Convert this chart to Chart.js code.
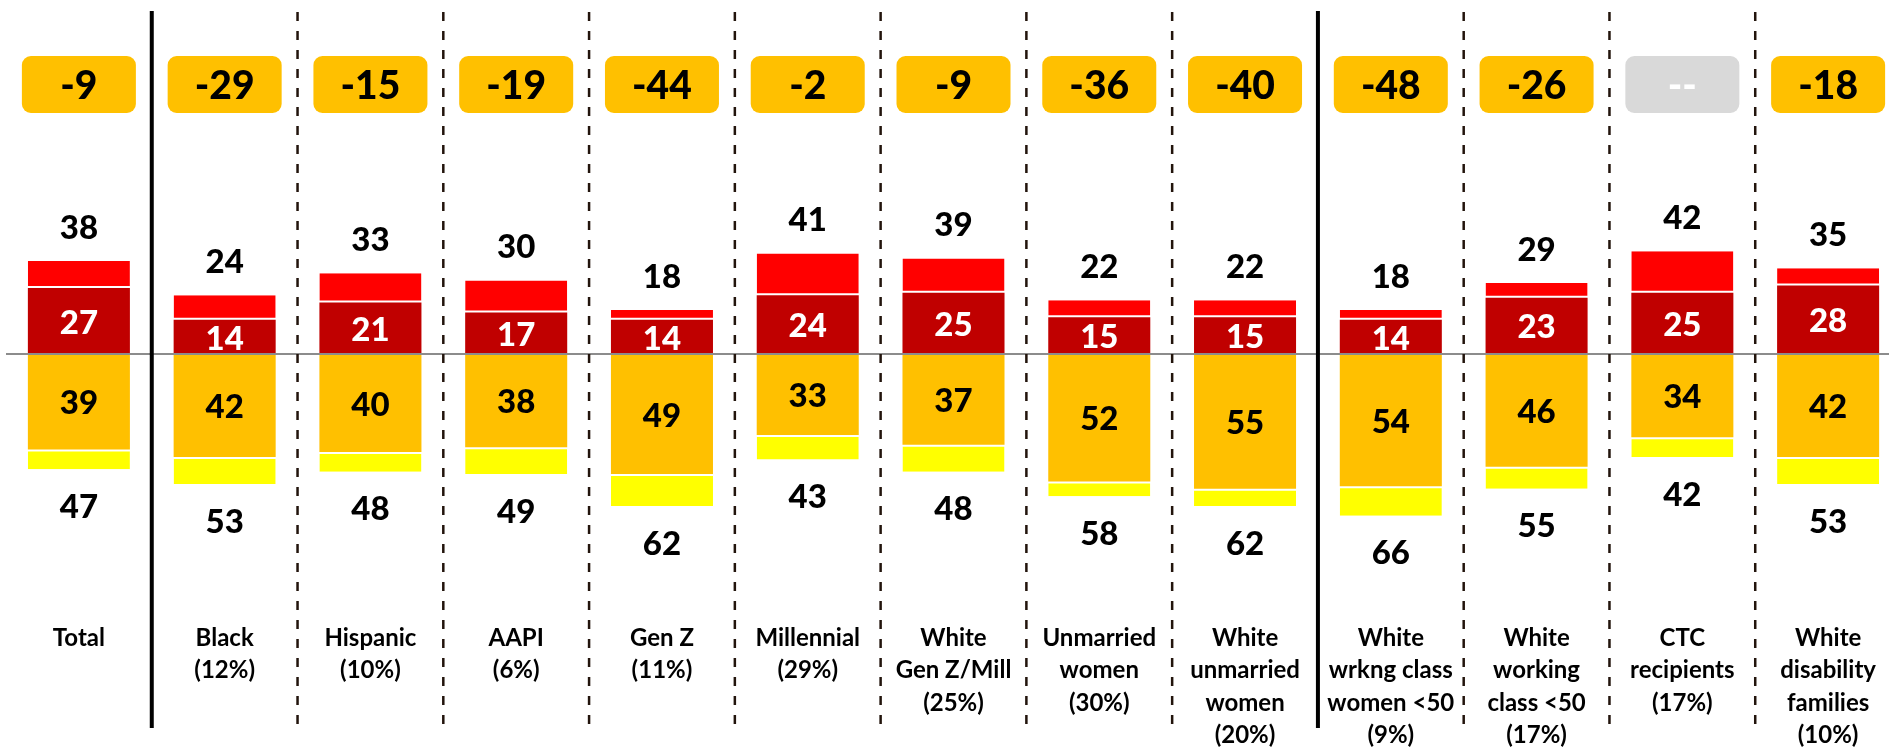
<!DOCTYPE html>
<html>
<head>
<meta charset="utf-8">
<script src="https://cdn.jsdelivr.net/npm/chart.js@4.4.1/dist/chart.umd.min.js"></script>
<style>
  html, body { margin: 0; padding: 0; background: #fff; overflow: hidden; }
  #wrap { position: absolute; left: 6px; top: 0; width: 1895px; height: 748px; }
</style>
</head>
<body>
<div id="wrap"><canvas id="vote_chart"></canvas></div>
<script>
const categories = [
  ['Total'],
  ['Black', '(12%)'],
  ['Hispanic', '(10%)'],
  ['AAPI', '(6%)'],
  ['Gen Z', '(11%)'],
  ['Millennial', '(29%)'],
  ['White', 'Gen Z/Mill', '(25%)'],
  ['Unmarried', 'women', '(30%)'],
  ['White', 'unmarried', 'women', '(20%)'],
  ['White', 'wrkng class', 'women <50', '(9%)'],
  ['White', 'working', 'class <50', '(17%)'],
  ['CTC', 'recipients', '(17%)'],
  ['White', 'disability', 'families', '(10%)']
];
const totalFavor   = [38, 24, 33, 30, 18, 41, 39, 22, 22, 18, 29, 42, 35];
const strongFavor  = [27, 14, 21, 17, 14, 24, 25, 15, 15, 14, 23, 25, 28];
const strongOppose = [39, 42, 40, 38, 49, 33, 37, 52, 55, 54, 46, 34, 42];
const totalOppose  = [47, 53, 48, 49, 62, 43, 48, 58, 62, 66, 55, 42, 53];
const netScore     = [-9, -29, -15, -19, -44, -2, -9, -36, -40, -48, -26, null, -18];
// group dividers drawn solid after these category indexes, dashed elsewhere
const solidAfter = [0, 8];

const FONT = 'Lato, "Open Sans", sans-serif';

function roundRect(ctx, x, y, w, h, r) {
  ctx.beginPath();
  ctx.moveTo(x + r, y);
  ctx.arcTo(x + w, y, x + w, y + h, r);
  ctx.arcTo(x + w, y + h, x, y + h, r);
  ctx.arcTo(x, y + h, x, y, r);
  ctx.arcTo(x, y, x + w, y, r);
  ctx.closePath();
}

const overlayPlugin = {
  id: 'overlay',
  afterDatasetsDraw(chart) {
    const ctx = chart.ctx;
    const xs = chart.scales.x;
    const ys = chart.scales.y;
    const area = chart.chartArea;
    const y0 = ys.getPixelForValue(0);
    ctx.save();

    // zero line
    ctx.strokeStyle = '#8c8c8c';
    ctx.lineWidth = 2;
    ctx.beginPath();
    ctx.moveTo(area.left, y0);
    ctx.lineTo(area.right, y0);
    ctx.stroke();

    // dividers between groups
    for (let i = 0; i < categories.length - 1; i++) {
      const xm = (xs.getPixelForValue(i) + xs.getPixelForValue(i + 1)) / 2;
      ctx.beginPath();
      if (solidAfter.includes(i)) {
        ctx.setLineDash([]);
        ctx.strokeStyle = '#000';
        ctx.lineWidth = 4;
        ctx.moveTo(xm, 11);
        ctx.lineTo(xm, 728);
      } else {
        ctx.setLineDash([9, 10]);
        ctx.strokeStyle = '#22140c';
        ctx.lineWidth = 2.5;
        ctx.moveTo(xm, 12);
        ctx.lineTo(xm, 731);
      }
      ctx.stroke();
    }
    ctx.setLineDash([]);

    ctx.textAlign = 'center';
    ctx.textBaseline = 'middle';
    categories.forEach((lines, i) => {
      const cx = xs.getPixelForValue(i);

      // net badge
      const net = netScore[i];
      roundRect(ctx, cx - 57, 56, 114, 57, 9);
      ctx.fillStyle = net === null ? '#d9d9d9' : '#ffc000';
      ctx.fill();
      ctx.fillStyle = net === null ? '#ffffff' : '#000000';
      ctx.font = '900 39px ' + FONT;
      ctx.fillText(net === null ? '--' : String(net), cx, 86);

      // value labels
      ctx.font = '900 33px ' + FONT;
      ctx.fillStyle = '#000';
      ctx.fillText(totalFavor[i], cx, ys.getPixelForValue(totalFavor[i]) - 33);
      ctx.fillText(totalOppose[i], cx, ys.getPixelForValue(-totalOppose[i]) + 38);
      ctx.fillStyle = '#fff';
      ctx.fillText(strongFavor[i], cx, (y0 + ys.getPixelForValue(strongFavor[i])) / 2 + 2);
      ctx.fillStyle = '#000';
      ctx.fillText(strongOppose[i], cx, (y0 + ys.getPixelForValue(-strongOppose[i])) / 2 + 2);

      // category labels
      ctx.font = 'bold 24px ' + FONT;
      lines.forEach((t, k) => ctx.fillText(t, cx, 638 + k * 32.5));
    });
    ctx.restore();
  }
};

const softFavor = totalFavor.map((t, i) => t - strongFavor[i]);
const softOppose = totalOppose.map((t, i) => t - strongOppose[i]);

new Chart(document.getElementById('vote_chart'), {
  type: 'bar',
  data: {
    labels: categories,
    datasets: [
      {
        label: 'Strong favor',
        data: strongFavor,
        backgroundColor: '#c00000',
        borderWidth: 0
      },
      {
        label: 'Somewhat favor',
        data: softFavor,
        backgroundColor: '#ff0000',
        borderColor: '#ffffff',
        borderWidth: { top: 0, right: 0, bottom: 2, left: 0 },
        borderSkipped: false
      },
      {
        label: 'Strong oppose',
        data: strongOppose.map(v => -v),
        backgroundColor: '#ffc000',
        borderWidth: 0
      },
      {
        label: 'Somewhat oppose',
        data: softOppose.map(v => -v),
        backgroundColor: '#ffff00',
        borderColor: '#ffffff',
        borderWidth: { top: 2, right: 0, bottom: 0, left: 0 },
        borderSkipped: false
      }
    ]
  },
  options: {
    responsive: true,
    maintainAspectRatio: false,
    animation: false,
    layout: { padding: 0 },
    datasets: {
      bar: { barPercentage: 0.7, categoryPercentage: 1.0 }
    },
    plugins: {
      legend: { display: false },
      tooltip: { enabled: false }
    },
    scales: {
      x: { stacked: true, display: false },
      y: { stacked: true, display: false, min: -160.8, max: 144.5 }
    }
  },
  plugins: [overlayPlugin]
});
</script>
</body>
</html>
